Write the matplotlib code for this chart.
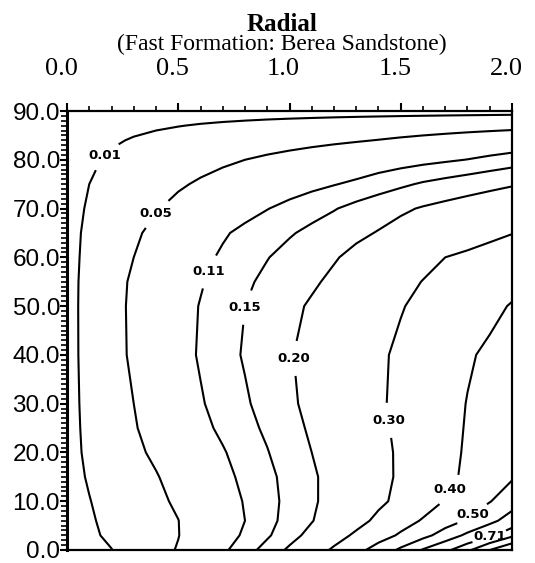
import matplotlib
matplotlib.use('Agg')
import matplotlib.pyplot as plt
import matplotlib.transforms as mtransforms
from matplotlib.ticker import MultipleLocator, FormatStrFormatter
import numpy as np

# grid (x along the top axis, y on the left axis)
x_vals = [0.0, 0.1, 0.2, 0.3, 0.4, 0.5, 0.6, 0.7, 0.8, 0.9, 1.0,
          1.1, 1.2, 1.3, 1.4, 1.5, 1.6, 1.7, 1.8, 1.9, 2.0]
y_vals = [0, 3, 6, 10, 15, 20, 25, 30, 40, 50, 55, 60, 65, 70, 75, 80, 84, 87, 90]

# estimated field values, one row per y value
r00 = [0, 0.005, 0.0095, 0.023, 0.037, 0.0525, 0.0775, 0.1025, 0.1315, 0.1667, 0.21,
       0.26, 0.312, 0.371, 0.438, 0.518, 0.608, 0.686, 0.78, 0.90, 1.00]
r03 = [0, 0.006, 0.014, 0.0255, 0.0375, 0.049, 0.0707, 0.0925, 0.1157, 0.144, 0.1786,
       0.219, 0.267, 0.314, 0.362, 0.412, 0.471, 0.542, 0.621, 0.689, 0.78]
r06 = [0, 0.0071, 0.0166, 0.0275, 0.0385, 0.0495, 0.07, 0.09, 0.11, 0.1367, 0.1656,
       0.197, 0.235, 0.273, 0.318, 0.364, 0.4075, 0.4575, 0.51, 0.574, 0.644]
r10 = [0, 0.0091, 0.02, 0.0311, 0.0422, 0.0556, 0.0744, 0.0931, 0.1124, 0.1359, 0.1618,
       0.1912, 0.2219, 0.2531, 0.2844, 0.32, 0.36, 0.4045, 0.45, 0.4955, 0.557]
r15 = [0, 0.0124, 0.0241, 0.0359, 0.0476, 0.0641, 0.0818, 0.0994, 0.1184, 0.1395, 0.1639,
       0.1917, 0.2206, 0.25, 0.2794, 0.3103, 0.3448, 0.3793, 0.415, 0.4525, 0.49]
r20 = [0, 0.0153, 0.0287, 0.042, 0.0567, 0.0733, 0.09, 0.1067, 0.1268, 0.1479, 0.1737,
       0.2, 0.227, 0.254, 0.281, 0.31, 0.343, 0.377, 0.409, 0.44, 0.47]
r25 = [0, 0.0168, 0.0319, 0.047, 0.0641, 0.0818, 0.0994, 0.1176, 0.1367, 0.1575, 0.1825,
       0.2078, 0.2338, 0.2597, 0.2857, 0.3138, 0.3446, 0.3754, 0.4055, 0.4327, 0.46]
r30 = [0, 0.018, 0.034, 0.05, 0.0688, 0.0875, 0.1063, 0.1252, 0.1443, 0.1667, 0.1905,
       0.215, 0.24, 0.265, 0.29, 0.3171, 0.3457, 0.3743, 0.4024, 0.4262, 0.45]
r40 = [0, 0.0196, 0.0375, 0.0558, 0.0752, 0.0945, 0.114, 0.134, 0.1542, 0.175, 0.1958,
       0.2186, 0.2419, 0.2651, 0.2884, 0.3132, 0.3395, 0.3658, 0.3921, 0.4124, 0.43]
r50 = [0, 0.0199, 0.0381, 0.0565, 0.0749, 0.0934, 0.1119, 0.131, 0.15, 0.1685, 0.187,
       0.2067, 0.2289, 0.2511, 0.2733, 0.2956, 0.3174, 0.3391, 0.3609, 0.3826, 0.405]
r55 = [0, 0.0194, 0.0374, 0.0551, 0.0723, 0.0894, 0.1066, 0.1245, 0.1427, 0.1597, 0.1758,
       0.1919, 0.2114, 0.2341, 0.2568, 0.2795, 0.302, 0.3207, 0.3394, 0.3582, 0.377]
r60 = [0, 0.0177, 0.0339, 0.05, 0.0664, 0.0829, 0.0993, 0.1157, 0.132, 0.1484, 0.1641,
       0.1797, 0.1953, 0.2149, 0.2362, 0.2574, 0.2787, 0.30, 0.313, 0.326, 0.339]
r65 = [0, 0.016, 0.0301, 0.0443, 0.0592, 0.0746, 0.09, 0.1054, 0.1193, 0.1327, 0.146,
       0.16, 0.1743, 0.1886, 0.2032, 0.2194, 0.2355, 0.2516, 0.2677, 0.2839, 0.298]
r70 = [0, 0.0129, 0.0245, 0.0361, 0.0477, 0.0598, 0.072, 0.0843, 0.0965, 0.1088, 0.1216,
       0.1345, 0.1474, 0.1629, 0.1771, 0.1914, 0.2045, 0.2156, 0.2267, 0.2379, 0.249]
r75 = [0, 0.01, 0.0189, 0.0278, 0.0367, 0.0456, 0.0545, 0.0634, 0.0724, 0.0813, 0.0903,
       0.0993, 0.1082, 0.1175, 0.13, 0.1425, 0.155, 0.165, 0.175, 0.185, 0.195]
r80 = [0, 0.0067, 0.0131, 0.0192, 0.0254, 0.0315, 0.0377, 0.0438, 0.05, 0.0561, 0.0621,
       0.0682, 0.0742, 0.0803, 0.0864, 0.0924, 0.0985, 0.1045, 0.111, 0.12, 0.129]
r84 = [0, 0.0038, 0.0077, 0.0114, 0.015, 0.0186, 0.0221, 0.0257, 0.0293, 0.0329, 0.0364,
       0.04, 0.0436, 0.0471, 0.0509, 0.0552, 0.0595, 0.0638, 0.0682, 0.0725, 0.0768]
r87 = [0, 0.0019, 0.0038, 0.0057, 0.0075, 0.0094, 0.0114, 0.0133, 0.0152, 0.0172, 0.0191,
       0.021, 0.023, 0.0249, 0.0268, 0.0288, 0.0307, 0.0326, 0.0346, 0.0365, 0.0384]
r90 = [0, 0, 0, 0, 0, 0, 0, 0, 0, 0, 0,
       0, 0, 0, 0, 0, 0, 0, 0, 0, 0]

label_levels = [0.01, 0.05, 0.11, 0.15, 0.20, 0.30, 0.40, 0.50, 0.71]
plain_levels = [0.60, 0.80, 0.90]

Z = np.array([r00, r03, r06, r10, r15, r20, r25, r30, r40, r50, r55,
              r60, r65, r70, r75, r80, r84, r87, r90])
X, Y = np.meshgrid(x_vals, y_vals)

fig = plt.figure(figsize=(5.35, 5.63), dpi=100)
ax = fig.add_axes([67/535, 1 - 550/563, 445/535, 439/563])

cs = ax.contour(X, Y, Z, levels=label_levels, colors='black', linewidths=1.5)
ax.contour(X, Y, Z, levels=plain_levels, colors='black', linewidths=1.5)

# label spots, roughly where the picture has them
label_pos = [(0.16, 81.4), (0.40, 69.0), (0.64, 57.0), (0.80, 49.8), (1.02, 39.3),
             (1.45, 26.6), (1.72, 12.3), (1.83, 6.8), (1.90, 2.5)]
labels = ax.clabel(cs, manual=label_pos, inline=True,
                   inline_spacing=3, fmt='%.2f', fontsize=9.5)
for t in labels:
    t.set_rotation(0)
    t.set_fontweight('bold')

ax.set_xlim(0, 2.0)
ax.set_ylim(0, 90)

# axis on top, angle axis on the left
ax.xaxis.tick_top()
ax.xaxis.set_major_locator(MultipleLocator(0.5))
ax.xaxis.set_minor_locator(MultipleLocator(0.1))
ax.xaxis.set_major_formatter(FormatStrFormatter('%.1f'))
ax.yaxis.set_major_locator(MultipleLocator(10))
ax.yaxis.set_minor_locator(MultipleLocator(1))
ax.yaxis.set_major_formatter(FormatStrFormatter('%.1f'))

ax.tick_params(axis='x', which='major', direction='out', length=6, width=1.5,
               pad=16.5, labelsize=19, top=True, bottom=False)
ax.tick_params(axis='x', which='minor', direction='out', length=3.5, width=1.2,
               top=True, bottom=False)
ax.tick_params(axis='y', which='major', direction='out', length=5, width=1.5,
               pad=0, labelsize=17.5, left=True, right=False)
ax.tick_params(axis='y', which='minor', direction='out', length=4.5, width=1.2,
               left=True, right=False)

for lab in ax.get_xticklabels():
    lab.set_fontfamily('Liberation Serif')
for lab in ax.get_yticklabels():
    lab.set_fontfamily('Liberation Sans')

shift = mtransforms.ScaledTranslation(-6/100, 0, fig.dpi_scale_trans)
for lab in ax.xaxis.get_majorticklabels():
    lab.set_transform(lab.get_transform() + shift)

for side in ['top', 'right', 'bottom']:
    ax.spines[side].set_linewidth(1.6)
ax.spines['left'].set_linewidth(2.2)

fig.text(282/535, 1 - 31/563, 'Radial', ha='center', va='baseline',
         fontsize=18, fontweight='bold', family='Liberation Serif')
fig.text(282/535, 1 - 50/563, '(Fast Formation: Berea Sandstone)', ha='center',
         va='baseline', fontsize=17, family='Liberation Serif')

fig.savefig('out.png', dpi=100)
